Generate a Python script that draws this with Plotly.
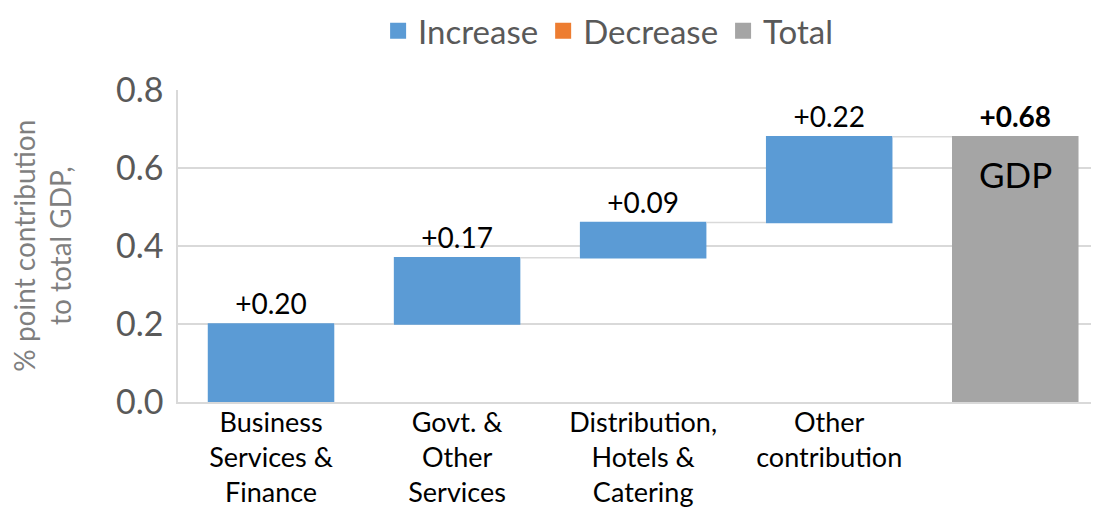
import plotly.graph_objects as go

categories = ["Business<br>Services &<br>Finance", "Govt. &<br>Other<br>Services",
              "Distribution,<br>Hotels &<br>Catering", "Other<br>contribution", ""]
measures = ["relative", "relative", "relative", "relative", "total"]
values = [0.20, 0.17, 0.09, 0.22, None]
labels = ["+0.20", "+0.17", "+0.09", "+0.22", "<b>+0.68</b>"]
y_ticks = [0.0, 0.2, 0.4, 0.6, 0.8]

blue = "#5B9BD5"
orange = "#ED7D31"
grey = "#A5A5A5"
font = "Lato, 'Open Sans', sans-serif"

positions = list(range(len(categories)))

fig = go.Figure()
fig.add_trace(go.Waterfall(
    x=positions,
    y=values,
    measure=measures,
    text=labels,
    textposition="outside",
    textfont=dict(size=28, color="black", family=font),
    increasing=dict(marker=dict(color=blue)),
    decreasing=dict(marker=dict(color=orange)),
    totals=dict(marker=dict(color=grey)),
    connector=dict(line=dict(color="#D9D9D9", width=1.5)),
    showlegend=False,
    cliponaxis=False,
))

# legend only entries
for name, col in [("Increase", blue), ("Decrease", orange), ("Total", grey)]:
    fig.add_trace(go.Scatter(x=[None], y=[None], mode="markers", name=name,
                             marker=dict(symbol="square", size=17, color=col)))

fig.add_annotation(x=4, y=0.68, text="GDP", showarrow=False, yanchor="top", yshift=-14,
                   font=dict(size=35, color="black", family=font))

fig.add_annotation(xref="paper", yref="paper", x=-0.148, y=0.5, textangle=-90,
                   text="% point contribution<br>to total GDP,", showarrow=False,
                   xanchor="center", yanchor="middle",
                   font=dict(size=28, color="#7F7F7F", family=font))

# page body adds 8px offset, so figure is 8px smaller than window
fig.update_layout(
    width=1091, height=506,
    margin=dict(l=170, r=0, t=82, b=112, autoexpand=False),
    plot_bgcolor="white", paper_bgcolor="white",
    waterfallgap=0.32,
    font=dict(family=font),
    legend=dict(orientation="h", x=0.467, xanchor="center", y=1.19, yanchor="middle",
                font=dict(size=33, color="#595959"), itemwidth=30, tracegroupgap=0),
    xaxis=dict(range=[-0.5, 4.45], tickvals=positions, ticktext=categories,
               showline=True, linecolor="#D9D9D9", linewidth=1.5, showgrid=False,
               tickfont=dict(size=27, color="black"), ticks="", ticklabelstandoff=-4),
    yaxis=dict(range=[0, 0.8], tickvals=y_ticks, tickformat=".1f",
               showline=True, linecolor="#D9D9D9", linewidth=1.5,
               showgrid=True, gridcolor="#D9D9D9", gridwidth=1.5, zeroline=False,
               tickfont=dict(size=34, color="#595959"), ticks="", ticklabelstandoff=6),
)

fig.write_html("out.html")
